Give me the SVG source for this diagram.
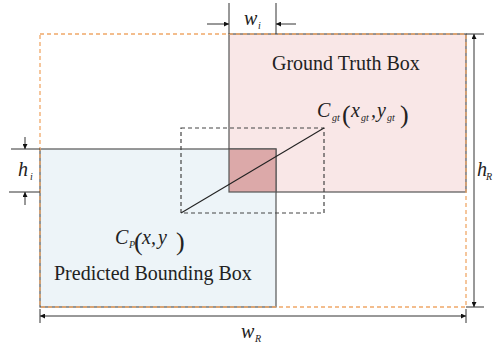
<svg xmlns="http://www.w3.org/2000/svg" width="494" height="349" viewBox="0 0 494 349">
<style>
.box{stroke:#555;stroke-width:1.2}
.ln{stroke:#222;stroke-width:1.1;fill:none}
.dim{stroke:#333;stroke-width:1;fill:none}
.arr{stroke:#333;stroke-width:1;fill:none;marker-end:url(#ah)}
.arr2{stroke:#333;stroke-width:1;fill:none;marker-start:url(#ahs);marker-end:url(#ah)}
.orange{stroke:#f0a868;stroke-width:1.3;stroke-dasharray:4,3;fill:none}
.blk{stroke:#444;stroke-width:1.2;stroke-dasharray:4,3;fill:none}
text{fill:#222}
.lbl{font-size:20px}
.m{font-style:italic;font-size:20px}
.s{font-style:italic;font-size:10px}
.p{font-size:26px}
</style>
<defs>
<marker id="ah" viewBox="0 0 10 10" refX="10" refY="5" markerWidth="6" markerHeight="5" markerUnits="userSpaceOnUse" orient="auto"><path d="M0,0 L10,5 L0,10 z" fill="#111"/></marker>
<marker id="ahs" viewBox="0 0 10 10" refX="10" refY="5" markerWidth="6" markerHeight="5" markerUnits="userSpaceOnUse" orient="auto-start-reverse"><path d="M0,0 L10,5 L0,10 z" fill="#111"/></marker>
</defs>
<g id="gt-box">
<rect x="229" y="34" width="237" height="158" fill="#f9e7e7" class="box"/>
<text class="lbl" font-family="Liberation Serif, DejaVu Serif, serif" x="272" y="70">Ground Truth Box</text>
</g>
<g id="pred-box">
<rect x="40" y="149" width="236" height="158" fill="#edf4f8" class="box"/>
<text class="lbl" font-family="Liberation Serif, DejaVu Serif, serif" x="54" y="280">Predicted Bounding Box</text>
</g>
<g id="intersection">
<rect x="229" y="149" width="47" height="43" fill="#dca9a9" class="box"/>
</g>
<g id="enclosing-box">
<rect x="181" y="128" width="143" height="85" class="blk"/>
</g>
<g id="region-box">
<rect x="40" y="34" width="426" height="273" class="orange"/>
</g>
<g id="connectors">
<line x1="181" y1="213" x2="324" y2="128" class="ln"/>
<line x1="229" y1="3" x2="229" y2="34" class="dim"/>
<line x1="276" y1="3" x2="276" y2="34" class="dim"/>
<line x1="207" y1="24" x2="229" y2="24" class="arr"/>
<line x1="296" y1="24" x2="276" y2="24" class="arr"/>
<line x1="11" y1="149" x2="40" y2="149" class="dim"/>
<line x1="9" y1="192" x2="40" y2="192" class="dim"/>
<line x1="25" y1="137" x2="25" y2="149" class="arr"/>
<line x1="25" y1="205" x2="25" y2="192" class="arr"/>
<line x1="466" y1="34" x2="484" y2="34" class="dim"/>
<line x1="466" y1="307" x2="484" y2="307" class="dim"/>
<line x1="474" y1="34" x2="474" y2="307" class="arr2"/>
<line x1="40" y1="309" x2="40" y2="323" class="dim"/>
<line x1="466" y1="309" x2="466" y2="323" class="dim"/>
<line x1="40" y1="316" x2="466" y2="316" class="arr2"/>
</g>
<g id="labels" font-family="Liberation Serif, DejaVu Serif, serif">
<text class="m" x="317" y="117">C</text><text class="s" x="332" y="121">gt</text>
<text class="p" x="342" y="123">(</text>
<text class="m" x="351" y="117">x</text><text class="s" x="361" y="121">gt</text>
<text class="m" x="371" y="117">,</text>
<text class="m" x="377" y="117">y</text><text class="s" x="387" y="121">gt</text>
<text class="p" x="400" y="123">)</text>
<text class="m" x="115" y="244">C</text><text class="s" x="129" y="248">P</text>
<text class="p" x="134" y="250">(</text>
<text class="m" x="142" y="244">x</text>
<text class="m" x="151" y="244">,</text>
<text class="m" x="158" y="244">y</text>
<text class="p" x="176" y="250">)</text>
<text class="m" x="244" y="25">w</text><text class="s" x="258" y="29">i</text>
<text class="m" x="18" y="176" font-size="22">h</text><text class="s" x="30" y="180">i</text>
<text class="m" x="477" y="176" font-size="22">h</text><text class="s" x="486" y="180">R</text>
<text class="m" x="241" y="338">w</text><text class="s" x="255" y="342">R</text>
</g>
</svg>
